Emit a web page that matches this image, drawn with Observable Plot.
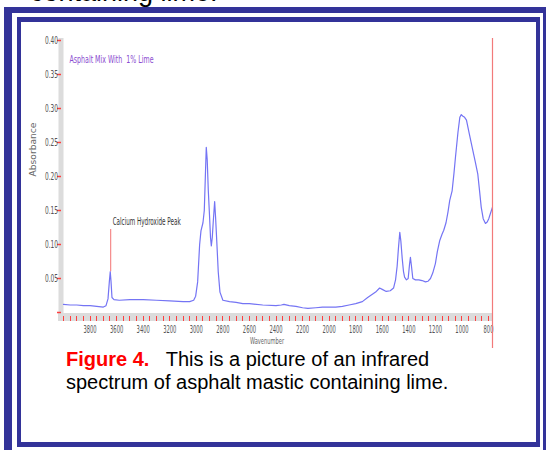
<!DOCTYPE html>
<html>
<head>
<meta charset="utf-8">
<script src="https://cdn.jsdelivr.net/npm/d3@7"></script>
<script src="https://cdn.jsdelivr.net/npm/@observablehq/plot@0.6"></script>
<style>
  html, body { margin: 0; padding: 0; background: #fff; }
  #page { position: relative; width: 546px; height: 450px; overflow: hidden; background: #fff; font-family: "Liberation Sans", Arial, sans-serif; }
  #cut { position: absolute; left: 30px; top: -21px; font-size: 27px; line-height: 27px; color: #000; white-space: nowrap; }
  .outer { position: absolute; left: 4px; top: 7px; width: 545px; height: 470px; box-sizing: border-box;
           border-left: 8px solid #333399; border-top: 6px solid #333399; border-right: 6px solid #333399; }
  .inner { position: absolute; left: 17px; top: 17px; width: 523px; height: 430px; box-sizing: border-box;
           border: 4px solid #333399; border-top-width: 5px; border-bottom-width: 5px; }
  #chart { position: absolute; left: 0; top: 0; }
  #caption { position: absolute; left: 66px; top: 348px; font-size: 20px; line-height: 23.3px; color: #000; white-space: nowrap; }
  #caption .fig { color: #ff0000; font-weight: bold; }
</style>
</head>
<body>
<div id="page">
  <div id="cut">containing lime.</div>
  <div class="outer"></div>
  <div class="inner"></div>
  <div id="chart"></div>
  <div id="caption"><span class="fig">Figure 4.</span>&nbsp;&nbsp; This is a picture of an infrared<br>spectrum of asphalt mastic containing lime.</div>
</div>
<script>
// ---- data ----
const wavenumbers = [
  4000, 3950, 3900, 3850, 3800, 3750, 3700, 3680, 3665, 3655, 3648, 3642, 3635, 3620, 3580,
  3500, 3400, 3300, 3200, 3100, 3050, 3020, 3005, 2990, 2975, 2965, 2950, 2940, 2932, 2925,
  2918, 2910, 2900, 2893, 2887, 2880, 2872, 2862, 2855, 2846, 2835, 2822, 2800, 2750, 2700,
  2650, 2600, 2500, 2400, 2360, 2340, 2300, 2250, 2200, 2160, 2100, 2050, 2000, 1950, 1900,
  1850, 1800, 1750, 1710, 1680, 1650, 1620, 1600, 1570, 1540, 1515, 1500, 1488, 1478, 1468,
  1460, 1450, 1440, 1432, 1418, 1405, 1395, 1388, 1380, 1370, 1350, 1325, 1300, 1275, 1255,
  1237, 1220, 1200, 1185, 1167, 1150, 1137, 1120, 1105, 1092, 1074, 1060, 1049, 1030, 1016,
  1005, 995, 980, 966, 945, 923, 900, 881, 868, 855, 840, 823, 810, 798, 785, 770
];
const absorbance = [
  0.012, 0.011, 0.011, 0.010, 0.010, 0.009, 0.008, 0.010, 0.020, 0.045, 0.060, 0.045, 0.022, 0.019, 0.018,
  0.019, 0.019, 0.018, 0.017, 0.016, 0.016, 0.018, 0.024, 0.045, 0.100, 0.120, 0.132, 0.150, 0.200, 0.243,
  0.225, 0.180, 0.140, 0.110, 0.098, 0.110, 0.135, 0.163, 0.140, 0.105, 0.060, 0.030, 0.018, 0.016, 0.015,
  0.013, 0.013, 0.011, 0.010, 0.011, 0.012, 0.010, 0.009, 0.007, 0.006, 0.007, 0.008, 0.008, 0.008, 0.009,
  0.011, 0.013, 0.016, 0.022, 0.026, 0.030, 0.036, 0.034, 0.031, 0.032, 0.036, 0.048, 0.068, 0.095, 0.118,
  0.105, 0.080, 0.060, 0.052, 0.048, 0.050, 0.070, 0.081, 0.068, 0.050, 0.048, 0.048, 0.047, 0.045, 0.046,
  0.050, 0.058, 0.072, 0.090, 0.106, 0.115, 0.121, 0.132, 0.148, 0.165, 0.179, 0.205, 0.228, 0.265, 0.287,
  0.291, 0.289, 0.287, 0.283, 0.263, 0.243, 0.222, 0.204, 0.180, 0.155, 0.138, 0.131, 0.133, 0.138, 0.146, 0.155
];
const xDomain = [4000, 770];
const yDomain = [0, 0.40];
const xTickLabels = [3800, 3600, 3400, 3200, 3000, 2800, 2600, 2400, 2200, 2000, 1800, 1600, 1400, 1200, 1000, 800];
const xMinorTicks = d3.range(800, 4001, 50);
const yTickLabels = [0.05, 0.10, 0.15, 0.20, 0.25, 0.30, 0.35, 0.40];
const yRedTicks = [0, 0.05, 0.10, 0.15, 0.20, 0.25, 0.30, 0.35, 0.40];
const titleText = ["Asphalt Mix With  1% Lime"];
const xLabel = ["Wavenumber"];
const yLabel = ["Absorbance"];
const calloutText = "Calcium Hydroxide Peak";
const calloutWavenumber = 3645;
const calloutPeak = 0.060;
const calloutTop = 0.122;

const spectrum = wavenumbers.map((w, i) => ({w, a: absorbance[i]}));
const callout = [{w: calloutWavenumber, lo: calloutPeak, hi: calloutTop, t: calloutText}];

const narrow = "'Liberation Sans Narrow','DejaVu Sans Condensed','Liberation Sans',Arial,sans-serif";
const red = "#ff4040";

const W = 546, H = 350, ML = 63, MR = 54, MT = 40, MB = 38;
const frameW = W - ML - MR, frameH = H - MT - MB;

const chart = Plot.plot({
  width: W,
  height: H,
  marginLeft: ML,
  marginRight: MR,
  marginTop: MT,
  marginBottom: MB,
  style: {background: "transparent", fontFamily: narrow},
  x: {domain: xDomain, axis: null},
  y: {domain: yDomain, axis: null},
  marks: [
    // grey axis bands
    Plot.ruleY([yDomain[0]], {stroke: "#dcdcdc", strokeWidth: 8, dy: 4.5, insetLeft: -5}),
    Plot.ruleX([xDomain[0]], {stroke: "#dcdcdc", strokeWidth: 5, dx: -2.5, insetTop: -2, insetBottom: -5}),
    // red tick marks in the bands
    Plot.tickX(xMinorTicks, {x: d => d, stroke: red, strokeWidth: 1, insetTop: frameH + 3.5, insetBottom: -8.5, shapeRendering: "crispEdges"}),
    Plot.tickY(yRedTicks, {y: d => d, stroke: red, strokeWidth: 1.5, insetLeft: -6, insetRight: frameW + 2}),
    // tick labels
    Plot.axisX(xTickLabels, {tickSize: 0, tickPadding: 13, tickFormat: d3.format("d"), fontSize: 10, fill: "#555", label: null}),
    Plot.axisY(yTickLabels, {tickSize: 0, tickPadding: 5.5, tickFormat: d3.format(".2f"), fontSize: 10, fill: "#555", label: null}),
    // spectrum
    Plot.line(spectrum, {x: "w", y: "a", stroke: "#7474f4", strokeWidth: 1.2}),
    // right edge red cursor line
    Plot.ruleX([xDomain[1]], {stroke: "#f27a7a", strokeWidth: 1.2, insetTop: -2, insetBottom: -36}),
    // callout
    Plot.ruleX(callout, {x: "w", y1: "lo", y2: "hi", stroke: "#f58a8a", strokeWidth: 1.2}),
    Plot.text(callout, {x: "w", y: "hi", text: "t", textAnchor: "start", dx: 2, dy: -7.5, fontSize: 10, fill: "#333"}),
    // titles
    Plot.text(titleText, {frameAnchor: "top-left", text: d => d, dx: 6, dy: 19, textAnchor: "start", lineAnchor: "middle", fontSize: 11, fill: "#8a4cd0"}),
    Plot.text(xLabel, {frameAnchor: "bottom", text: d => d, dx: -11, dy: 29, lineAnchor: "middle", fontSize: 9, fill: "#666"}),
    Plot.text(yLabel, {frameAnchor: "left", text: d => d, dx: -30, rotate: -90, lineAnchor: "middle", fontSize: 9, fill: "#666"})
  ]
});

// condense the tiny scanned-looking labels
const sel = d3.select(chart);
function squeeze(node) {
  const t = node.textContent;
  if (!t) return;
  let len = null;
  if (/^\d{3,4}$/.test(t)) len = t.length * 3.3;
  else if (/^0\.\d\d$/.test(t)) len = 13;
  else if (t === titleText[0]) len = 84;
  else if (t === calloutText) len = 68;
  else if (t === xLabel[0]) len = 34;
  else if (t === yLabel[0]) len = 54;
  if (len) d3.select(node).attr("textLength", len).attr("lengthAdjust", "spacingAndGlyphs");
}
sel.selectAll("text").each(function() { squeeze(this); });
document.getElementById("chart").appendChild(chart);
</script>
</body>
</html>
